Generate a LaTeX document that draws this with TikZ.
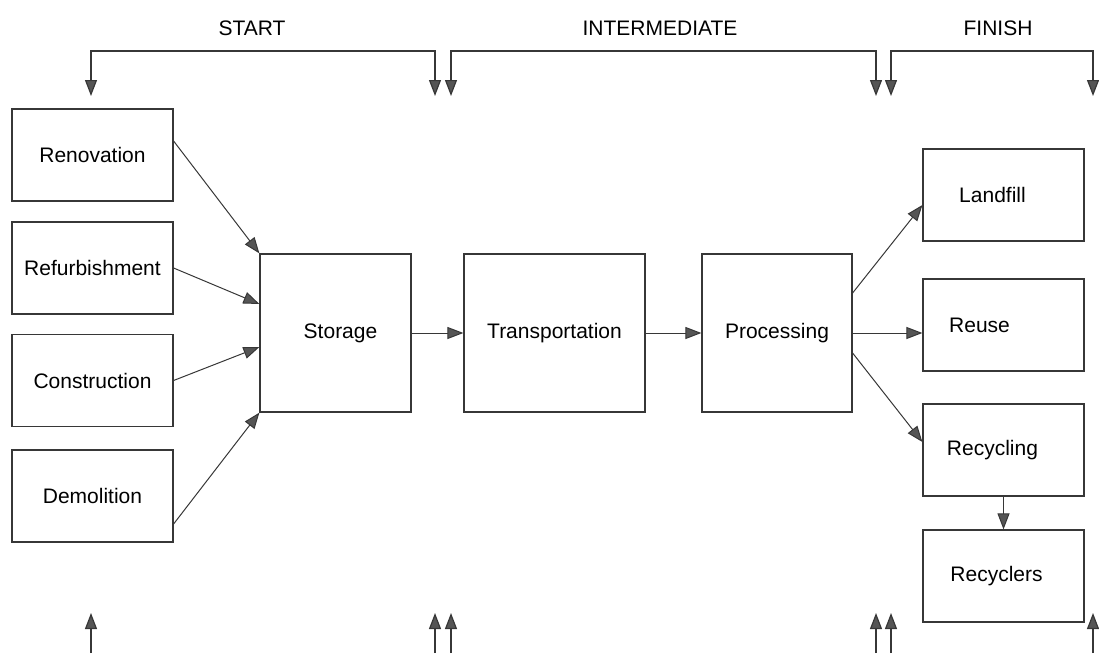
\documentclass[tikz,border=0pt]{standalone}
\usepackage{fontspec}
\setmainfont{Liberation Sans}
\usetikzlibrary{arrows.meta}
\definecolor{ink}{RGB}{55,55,55}
\definecolor{tipfill}{RGB}{85,85,85}
\begin{document}
\begin{tikzpicture}[x=1pt,y=-1pt,
  box/.style={draw=ink, line width=1.2pt, rectangle, inner sep=0pt,
    font=\fontsize{21}{24}\selectfont},
  lbl/.style={font=\fontsize{21}{24}\selectfont},
  flow/.style={draw=ink, line width=1pt, -{Triangle[length=16pt,width=12pt,fill=tipfill]}},
  both/.style={draw=ink, line width=1.2pt,
    {Triangle[length=16pt,width=12pt,fill=tipfill]}-{Triangle[length=16pt,width=12pt,fill=tipfill]}},
  up/.style={draw=ink, line width=1.2pt, -{Triangle[length=16pt,width=12pt,fill=tipfill]}},
  head/.style={font=\fontsize{21}{24}\selectfont}]
\useasboundingbox (0,0) rectangle (1099,653);

% source activities
\node[box, minimum width=161pt, minimum height=92pt] (ren) at (92.5,155) {Renovation};
\node[box, minimum width=161pt, minimum height=92pt] (ref) at (92.5,268) {Refurbishment};
\node[box, minimum width=161pt, minimum height=92pt] (con) at (92.5,380.5) {Construction};
\node[box, minimum width=161pt, minimum height=92pt] (dem) at (92.5,496) {Demolition};

% main chain
\node[box, minimum width=151pt, minimum height=158pt, label={[lbl,xshift=5pt]center:Storage}] (sto) at (335.5,333) {};
\node[box, minimum width=181pt, minimum height=158pt] (tra) at (554.5,333) {Transportation};
\node[box, minimum width=150pt, minimum height=158pt] (pro) at (777,333) {Processing};

% destinations
\node[box, minimum width=161pt, minimum height=92pt, label={[lbl,xshift=-11pt]center:Landfill}] (lan) at (1003.5,195) {};
\node[box, minimum width=161pt, minimum height=92pt, label={[lbl,xshift=-24pt]center:Reuse}] (reu) at (1003.5,325) {};
\node[box, minimum width=161pt, minimum height=92pt, label={[lbl,xshift=-11pt]center:Recycling}] (rcy) at (1003.5,450) {};
\node[box, minimum width=161pt, minimum height=92pt, label={[lbl,xshift=-7pt]center:Recyclers}] (rcs) at (1003.5,576) {};

% flows into storage
\draw[flow] ([yshift=14pt]ren.east) -- (sto.north west);
\draw[flow] (ref.east) -- ([yshift=29pt]sto.west);
\draw[flow] (con.east) -- ([yshift=-14pt]sto.west);
\draw[flow] ([yshift=-28pt]dem.east) -- (sto.south west);

% chain
\draw[flow] (sto.east) -- (tra.west);
\draw[flow] (tra.east) -- (pro.west);

% out of processing
\draw[flow] ([yshift=40pt]pro.east) -- ([yshift=-10pt]lan.west);
\draw[flow] (pro.east) -- (pro.east -| reu.west);
\draw[flow] ([yshift=-20pt]pro.east) -- ([yshift=8pt]rcy.west);
\draw[flow] (rcy.south) -- (rcs.north);

% stage brackets
\coordinate (s1) at (91,96);   \coordinate (s2) at (435,96);
\coordinate (i1) at (451,96);  \coordinate (i2) at (876,96);
\coordinate (f1) at (891,96);  \coordinate (f2) at (1093,96);
\draw[both] (s1) -- ++(0,-45) -| (s2);
\draw[both] (i1) -- ++(0,-45) -| (i2);
\draw[both] (f1) -- ++(0,-45) -| (f2);

\node[head] (hs) at (252,28) {START};
\node[head] (hi) at (660,28) {INTERMEDIATE};
\node[head] (hf) at (998,28) {FINISH};

% bottom markers
\foreach \x [count=\i] in {91,435,451,876,891,1093}{
  \coordinate (b\i) at (\x,653);
  \coordinate (t\i) at (\x,613);
  \draw[up] (b\i) -- (t\i);
}
\end{tikzpicture}
\end{document}
